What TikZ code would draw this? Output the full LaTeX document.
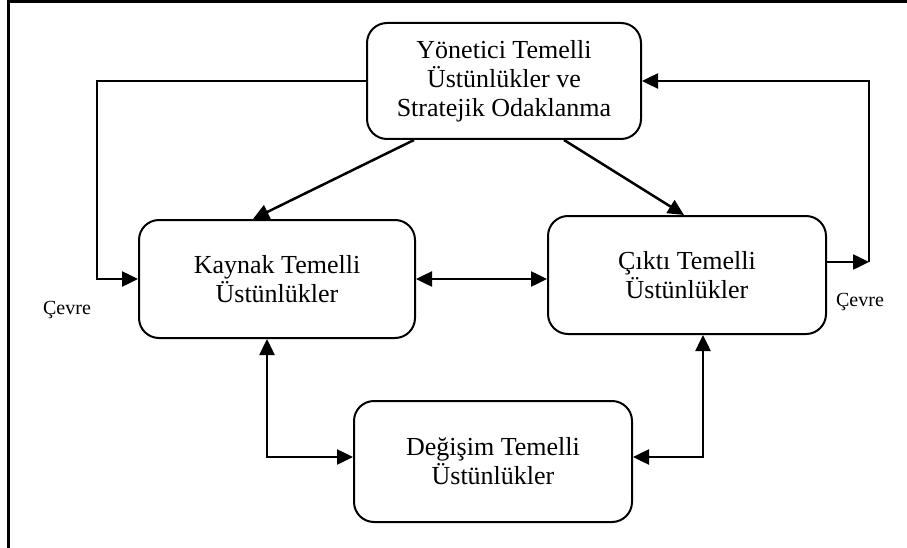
\documentclass[tikz,border=0pt]{standalone}
\usepackage{fontspec}
\setmainfont{Liberation Serif}
\usetikzlibrary{arrows.meta,calc}
\begin{document}
\begin{tikzpicture}[x=1pt,y=-1pt,
  box/.style={draw,line width=2pt,rounded corners=20pt,align=center,
    inner sep=0pt,font=\fontsize{26}{29}\selectfont},
  link/.style={line width=2.5pt,-{Triangle[length=16pt,width=15pt]}},
  dlink/.style={line width=2.5pt,{Triangle[length=16pt,width=15pt]}-{Triangle[length=16pt,width=15pt]}},
  lbl/.style={font=\fontsize{20}{22}\selectfont,inner sep=0pt}]
\useasboundingbox (0,0) rectangle (907,548);
% open frame: left and top edges
\draw[line width=3pt] (8.5,548) -- (8.5,2) -- (907,2);

\node[box,minimum width=274pt,minimum height=116pt] (top) at (504,81)
  {Yönetici Temelli\\Üstünlükler ve\\Stratejik Odaklanma};
\node[box,minimum width=276pt,minimum height=118pt] (kaynak) at (277,279)
  {Kaynak Temelli\\Üstünlükler};
\node[box,minimum width=278pt,minimum height=118pt] (cikti) at (687,275)
  {Çıktı Temelli\\Üstünlükler};
\node[box,minimum width=278pt,minimum height=121pt] (degisim) at (493,461.5)
  {Değişim Temelli\\Üstünlükler};

\node[lbl] (cevreL) at (67,310) {Çevre};
\node[lbl] (cevreR) at (860,302) {Çevre};

% top box down to the two middle boxes
\draw[link] ($(top.south)+(-90,0)$) -- ($(kaynak.north)+(-24,0)$);
\draw[link] ($(top.south)+(60,0)$) -- ($(cikti.north)+(-3,0)$);

% environment loop on the left
\coordinate (lc) at (97,81);
\draw[link] (top.west) -- (lc) |- (kaynak.west);

% environment loop on the right
\coordinate (rc) at (869,262);
\draw[link] (cikti.east |- rc) -- (rc);
\draw[link] (rc) |- (top.east);

% between the middle boxes
\draw[dlink] (kaynak.east) -- (kaynak.east -| cikti.west);

% links to the bottom box
\coordinate (bl) at (267,457);
\coordinate (br) at (703,457);
\draw[dlink] (kaynak.south -| bl) -- (bl) -- (bl -| degisim.west);
\draw[dlink] (cikti.south -| br) -- (br) -- (br -| degisim.east);
\end{tikzpicture}
\end{document}
